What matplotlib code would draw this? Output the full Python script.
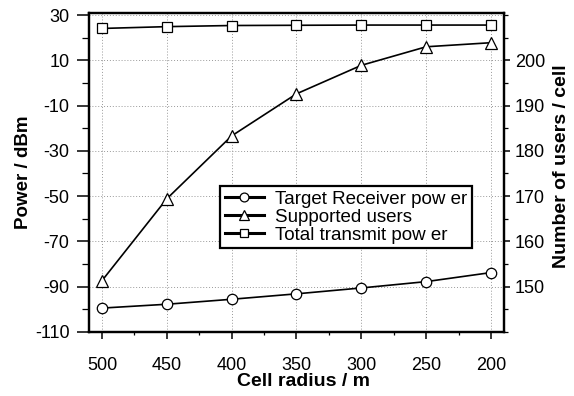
import numpy as np
import matplotlib
matplotlib.use("Agg")
import matplotlib.pyplot as plt
from matplotlib.ticker import MultipleLocator

plt.rcParams["font.family"] = ["Liberation Sans", "DejaVu Sans"]
plt.rcParams["axes.unicode_minus"] = False

# Data
radius = [500, 450, 400, 350, 300, 250, 200]
target_rx_power = [-99.5, -97.8, -95.6, -93.2, -90.6, -87.8, -83.8]
supported_users = [151.3, 169.4, 183.3, 192.6, 198.9, 203.0, 203.9]
total_tx_power = [24.1, 24.9, 25.4, 25.5, 25.6, 25.6, 25.6]

x_ticks = [500, 450, 400, 350, 300, 250, 200]
left_ticks = [-110, -90, -70, -50, -30, -10, 10, 30]
right_ticks = [150, 160, 170, 180, 190, 200]

fig = plt.figure(figsize=(5.74, 3.96), dpi=100)
ax = fig.add_axes([0.155, 0.162, 0.723, 0.805])
ax2 = ax.twinx()

mk = dict(color="black", lw=1.2, markerfacecolor="white",
          markeredgecolor="black", markeredgewidth=0.9)

l1, = ax.plot(radius, target_rx_power, marker="o", ms=7.5,
              label="Target Receiver pow er", **mk)
l3, = ax.plot(radius, total_tx_power, marker="s", ms=7,
              label="Total transmit pow er", **mk)
l2, = ax2.plot(radius, supported_users, marker="^", ms=8,
               label="Supported users", **mk)

ax.set_xlim(510, 190)
ax.set_ylim(-110, 30.9)
ax2.set_ylim(140, 210.45)

ax.set_xticks(x_ticks)
ax.set_yticks(left_ticks)
ax2.set_yticks(right_ticks)
ax.xaxis.set_minor_locator(MultipleLocator(25))
ax.yaxis.set_minor_locator(MultipleLocator(10))
ax2.yaxis.set_minor_locator(MultipleLocator(5))

ax.grid(True, which="major", color="#999999", ls=(0, (1, 2)), lw=0.7)
ax.set_axisbelow(True)

ax.tick_params(axis="x", which="major", direction="out", length=5, width=1.1,
               labelsize=13, pad=13)
ax.tick_params(axis="x", which="minor", direction="out", length=2.5, width=0.9)
ax.tick_params(axis="y", which="major", direction="out", length=9, width=1.1,
               labelsize=13, pad=5)
ax.tick_params(axis="y", which="minor", direction="out", length=5, width=0.9)
ax2.tick_params(axis="y", which="major", direction="out", length=4.5,
                width=1.1, labelsize=13, pad=3.5)
ax2.tick_params(axis="y", which="minor", direction="out", length=3, width=0.9)
for a in (ax, ax2):
    for s in a.spines.values():
        s.set_linewidth(1.6)

ax.set_xlabel("Cell radius / m", fontsize=14, fontweight="bold")
ax.xaxis.set_label_coords(0.518, -0.13)
ax.set_ylabel("Power / dBm", fontsize=13.5, fontweight="bold", labelpad=2)
ax2.set_ylabel("Number of users / cell", fontsize=14, fontweight="bold")
ax2.yaxis.set_label_coords(1.118, 0.52)

# legend sits on the twin axes so it covers the lines of both
leg = ax2.legend(handles=[l1, l2, l3], loc="upper left",
                 bbox_to_anchor=(0.316, 0.458), fontsize=13.5, frameon=True,
                 fancybox=False, edgecolor="black", framealpha=1,
                 handlelength=2.1, handletextpad=0.6, borderpad=0.25,
                 labelspacing=0.05, borderaxespad=0, markerscale=0.85)
leg.get_frame().set_linewidth(1.6)
for h in leg.get_lines():
    h.set_linewidth(2.2)

fig.savefig("out.png", dpi=100)
